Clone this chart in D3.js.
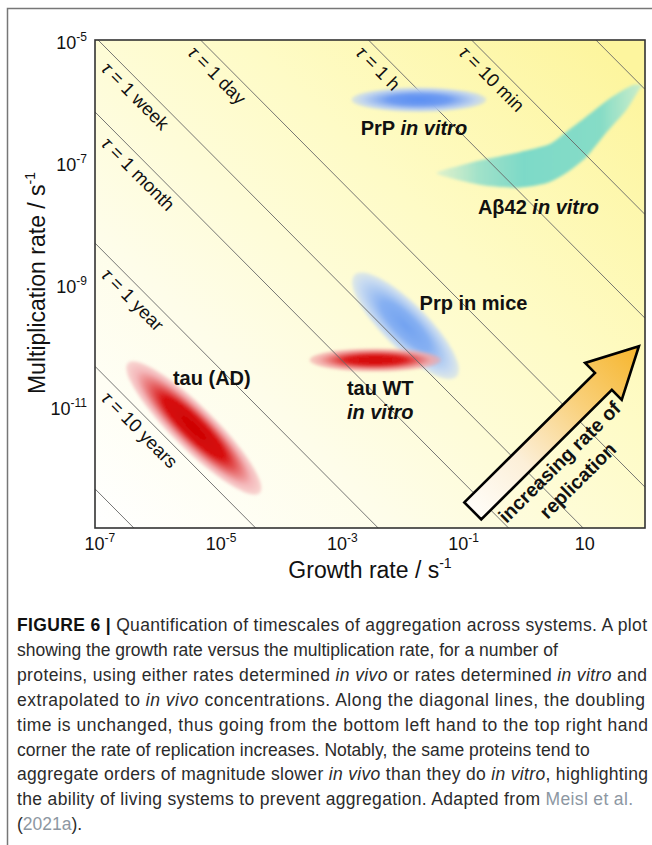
<!DOCTYPE html>
<html>
<head>
<meta charset="utf-8">
<script src="https://cdn.jsdelivr.net/npm/d3@7"></script>
<style>
  body { margin: 0; background: #fff; }
  svg { display: block; font-family: "Liberation Sans", Arial, Helvetica, sans-serif; }
</style>
</head>
<body>
<div class="figure"></div>
<script>
// tick values on the two log axes
var xTicks = [1e-7, 1e-5, 1e-3, 1e-1, 10];
var yTicks = [1e-5, 1e-7, 1e-9, 1e-11];

// lines of constant doubling time, growth * multiplication is fixed along each
var tauNames = ["", "10 min", "1 h", "1 day", "1 week", "1 month", "1 year", "10 years", ""];
var tauProducts = [1.55e-4, 1.38e-6, 2.75e-8, 4.68e-11, 9.55e-13, 5.62e-14, 3.98e-16, 3.80e-18, 3.72e-20];

// elliptical blobs: long axis from start to end, spread = half width in decades
var blobNames = ["Prp in mice", "tau WT", "tau (AD)", "PrP in vitro"];
var blobStartGrowth = [1.62e-3, 2.94e-4, 2.97e-7, 1.45e-3];
var blobStartMult = [1.41e-9, 5.68e-11, 5.07e-11, 1.05e-6];
var blobEndGrowth = [7.76e-2, 4.30e-2, 4.43e-5, 0.241];
var blobEndMult = [3.02e-11, 5.68e-11, 3.75e-13, 1.05e-6];
var blobSpread = [0.37, 0.19, 0.35, 0.2];

// Abeta42 in vitro, outline of the curved region
var abGrowth = [0.0363, 0.0871, 0.240, 0.851, 2.34, 5.01, 10.7, 22.9, 49.0, 79.4, 89.1, 61.7, 28.8, 10.7, 5.01, 2.63, 0.851, 0.240, 0.0871];
var abMult = [6.61e-8, 5.01e-8, 4.07e-8, 3.80e-8, 4.47e-8, 6.61e-8, 1.20e-7, 3.02e-7, 7.08e-7, 1.51e-6, 1.82e-6, 1.82e-6, 1.17e-6, 5.50e-7, 3.09e-7, 1.95e-7, 1.45e-7, 1.12e-7, 8.71e-8];

// arrow "increasing rate of replication": tail then tip
var arrowGrowth = [0.1445, 79.4];
var arrowMult = [1.905e-13, 9.55e-11];

var captionLines = [
  [["FIGURE 6 |", "b"], [" Quantification of timescales of aggregation across systems. A plot", ""]],
  [["showing the growth rate versus the multiplication rate, for a number of", ""]],
  [["proteins, using either rates determined ", ""], ["in vivo", "i"], [" or rates determined ", ""], ["in vitro", "i"], [" and", ""]],
  [["extrapolated to ", ""], ["in vivo", "i"], [" concentrations. Along the diagonal lines, the doubling", ""]],
  [["time is unchanged, thus going from the bottom left hand to the top right hand", ""]],
  [["corner the rate of replication increases. Notably, the same proteins tend to", ""]],
  [["aggregate orders of magnitude slower ", ""], ["in vivo", "i"], [" than they do ", ""], ["in vitro", "i"], [", highlighting", ""]],
  [["the ability of living systems to prevent aggregation. Adapted from ", ""], ["Meisl et al.", "l"]],
  [["(", ""], ["2021a", "l"], [").", ""]]
];
// full-width lines are spread to the right edge, the others stay natural (0)
var captionWidths = [630, 0, 630, 628, 631, 0, 631, 616, 0];

var svgWidth = 652;
var svgHeight = 845;

var plot = { left: 95, right: 645, top: 40, bottom: 528 };

var svg = d3.select(".figure")
  .append("svg")
  .attr("width", svgWidth)
  .attr("height", svgHeight);

var defs = svg.append("defs");

// outer figure frame (left + top)
svg.append("path")
  .attr("d", "M7.5," + svgHeight + "V8.5H" + svgWidth)
  .attr("fill", "none")
  .attr("stroke", "#777")
  .attr("stroke-width", 1.5);

var xScale = d3.scaleLog()
  .domain([8.5e-8, 100])
  .range([plot.left, plot.right]);

var yScale = d3.scaleLog()
  .domain([1e-13, 1e-5])
  .range([plot.bottom, plot.top]);

var pxPerDecade = yScale(1e-6) - yScale(1e-5);

// background gradient, white bottom left to yellow top right
var bg = defs.append("linearGradient")
  .attr("id", "bgGrad")
  .attr("x1", 0).attr("y1", 1).attr("x2", 1).attr("y2", 0.1);
bg.append("stop").attr("offset", "0").attr("stop-color", "#ffffff");
bg.append("stop").attr("offset", "0.3").attr("stop-color", "#fefdea");
bg.append("stop").attr("offset", "0.65").attr("stop-color", "#fefbc6");
bg.append("stop").attr("offset", "1").attr("stop-color", "#fdf59e");

defs.append("clipPath").attr("id", "plotClip")
  .append("rect")
  .attr("x", plot.left).attr("y", plot.top)
  .attr("width", plot.right - plot.left)
  .attr("height", plot.bottom - plot.top);

var soft = defs.append("filter").attr("id", "soft")
  .attr("x", "-20%").attr("y", "-20%").attr("width", "140%").attr("height", "140%");
soft.append("feGaussianBlur").attr("stdDeviation", 1.4);

svg.append("rect")
  .attr("x", plot.left).attr("y", plot.top)
  .attr("width", plot.right - plot.left)
  .attr("height", plot.bottom - plot.top)
  .attr("fill", "url(#bgGrad)");

var chartGroup = svg.append("g").attr("clip-path", "url(#plotClip)");

// colours for each blob: [core, middle, edge]
var blobColors = [
  ["#72a2f1", "#86b0f2", "#c2d7f4"],
  ["#d20000", "#dc1c1c", "#f2a6a6"],
  ["#cc0000", "#d81010", "#f3b0b4"],
  ["#5a8ef3", "#6f9cf2", "#bcd2f3"]
];

function drawBlob(g, i) {
  var x1 = xScale(blobStartGrowth[i]), y1 = yScale(blobStartMult[i]);
  var x2 = xScale(blobEndGrowth[i]), y2 = yScale(blobEndMult[i]);
  var cx = (x1 + x2) / 2, cy = (y1 + y2) / 2;
  var ang = Math.atan2(y2 - y1, x2 - x1) * 180 / Math.PI;
  var rx = Math.hypot(x2 - x1, y2 - y1) / 2;
  var ry = blobSpread[i] * pxPerDecade;

  var grad = defs.append("radialGradient").attr("id", "blob" + i);
  grad.append("stop").attr("offset", "0").attr("stop-color", blobColors[i][0]);
  grad.append("stop").attr("offset", "0.45").attr("stop-color", blobColors[i][1]);
  grad.append("stop").attr("offset", "0.85").attr("stop-color", blobColors[i][2]).attr("stop-opacity", 0.9);
  grad.append("stop").attr("offset", "1").attr("stop-color", blobColors[i][2]).attr("stop-opacity", 0.5);

  g.append("ellipse")
    .attr("transform", `translate(${cx},${cy}) rotate(${ang})`)
    .attr("rx", rx)
    .attr("ry", ry)
    .attr("fill", "url(#blob" + i + ")")
    .attr("filter", "url(#soft)");
  return [cx, cy];
}

// Abeta42 region
var abGrad = defs.append("linearGradient").attr("id", "abGrad")
  .attr("x1", 0).attr("y1", 0).attr("x2", 1).attr("y2", 0);
abGrad.append("stop").attr("offset", "0").attr("stop-color", "#d2eed0").attr("stop-opacity", 0.7);
abGrad.append("stop").attr("offset", "0.2").attr("stop-color", "#a2e2c9");
abGrad.append("stop").attr("offset", "0.42").attr("stop-color", "#7dd9c8");
abGrad.append("stop").attr("offset", "0.8").attr("stop-color", "#86dcc6");
abGrad.append("stop").attr("offset", "1").attr("stop-color", "#c2ecd0").attr("stop-opacity", 0.85);

var abPoints = abGrowth.map((g, i) => [xScale(g), yScale(abMult[i])]);
chartGroup.append("path")
  .attr("d", d3.line().curve(d3.curveCardinalClosed.tension(0.3))(abPoints))
  .attr("fill", "url(#abGrad)")
  .attr("filter", "url(#soft)");

// blobs below the lines
var blobCentres = [];
blobCentres[0] = drawBlob(chartGroup, 0);
blobCentres[1] = drawBlob(chartGroup, 1);
blobCentres[2] = drawBlob(chartGroup, 2);

// diagonal lines
var gMin = xScale.domain()[0], gMax = xScale.domain()[1];
chartGroup.selectAll("line.tau")
  .data(tauProducts)
  .enter()
  .append("line")
  .classed("tau", true)
  .attr("x1", xScale(gMin))
  .attr("y1", d => yScale(d / gMin))
  .attr("x2", xScale(gMax))
  .attr("y2", d => yScale(d / gMax))
  .attr("stroke", "#666")
  .attr("stroke-width", 0.9);

// PrP in vitro sits over the lines
blobCentres[3] = drawBlob(chartGroup, 3);

// tau labels, just under each line where it enters the plot
var mTop = yScale.domain()[1];
tauProducts.forEach(function(k, i) {
  if (!tauNames[i]) return;
  var gp = Math.max(k / mTop, xScale.invert(plot.left + 19));
  var px = xScale(gp), py = yScale(k / gp);
  var dx = xScale(gMax) - xScale(gMin), dy = yScale(k / gMax) - yScale(k / gMin);
  var len = Math.hypot(dx, dy);
  dx /= len; dy /= len;
  var bx = px - dy * 19.5, by = py + dx * 19.5;
  var ang = Math.atan2(dy, dx) * 180 / Math.PI;
  var t = svg.append("text")
    .attr("transform", `translate(${bx},${by}) rotate(${ang})`)
    .attr("font-size", 18.5)
    .attr("fill", "#111");
  t.append("tspan").attr("font-style", "italic").text("τ");
  t.append("tspan").text(" = " + tauNames[i]);
});

// arrow
var tx = xScale(arrowGrowth[0]), ty = yScale(arrowMult[0]);
var hx = xScale(arrowGrowth[1]), hy = yScale(arrowMult[1]);
var aLen = Math.hypot(hx - tx, hy - ty);
var ux = (hx - tx) / aLen, uy = (hy - ty) / aLen;
var vx = -uy, vy = ux;
var shaftHalf = 12, headHalf = 26, headLen = 50;
function ap(along, side) { return [tx + ux * along + vx * side, ty + uy * along + vy * side]; }
var arrowPts = [
  ap(0, -shaftHalf), ap(aLen - headLen, -shaftHalf), ap(aLen - headLen, -headHalf),
  ap(aLen, 0),
  ap(aLen - headLen, headHalf), ap(aLen - headLen, shaftHalf), ap(0, shaftHalf)
];

var arrowGrad = defs.append("linearGradient").attr("id", "arrowGrad")
  .attr("gradientUnits", "userSpaceOnUse")
  .attr("x1", tx).attr("y1", ty).attr("x2", hx).attr("y2", hy);
arrowGrad.append("stop").attr("offset", "0").attr("stop-color", "#fffdf8");
arrowGrad.append("stop").attr("offset", "0.3").attr("stop-color", "#fcefd8");
arrowGrad.append("stop").attr("offset", "0.65").attr("stop-color", "#f9d07a");
arrowGrad.append("stop").attr("offset", "1").attr("stop-color", "#f6b52c");

svg.append("path")
  .attr("d", "M" + arrowPts.join("L") + "Z")
  .attr("fill", "url(#arrowGrad)")
  .attr("stroke", "#000")
  .attr("stroke-width", 2.6)
  .attr("stroke-linejoin", "miter");

var aAng = Math.atan2(uy, ux) * 180 / Math.PI;
[["increasing rate of", 26], ["replication", 52]].forEach(function(d) {
  var c = ap(96, d[1]);
  svg.append("text")
    .attr("transform", `translate(${c[0]},${c[1]}) rotate(${aAng})`)
    .attr("text-anchor", "middle")
    .attr("dy", "0.36em")
    .attr("font-size", 19.5)
    .attr("font-weight", "bold")
    .attr("fill", "#111")
    .text(d[0]);
});

// blob labels (offsets from blob centre, px)
var labelGroup = svg.append("g")
  .attr("font-size", 20)
  .attr("font-weight", "bold")
  .attr("fill", "#111")
  .attr("text-anchor", "middle");

function label(x, y, parts) {
  var t = labelGroup.append("text").attr("x", x).attr("y", y);
  parts.forEach(p => t.append("tspan").attr("font-style", p[1] ? "italic" : null).text(p[0]));
}
label(blobCentres[0][0] + 68, blobCentres[0][1] - 16, [["Prp in mice", false]]);
label(blobCentres[1][0] + 5, blobCentres[1][1] + 35, [["tau WT", false]]);
label(blobCentres[1][0] + 5, blobCentres[1][1] + 59, [["in vitro", true]]);
label(blobCentres[2][0] + 18, blobCentres[2][1] - 43, [["tau (AD)", false]]);
label(blobCentres[3][0] - 5, blobCentres[3][1] + 35, [["PrP ", false], ["in vitro", true]]);
var abLow = abPoints[3];
label(abLow[0] + 19, abLow[1] + 26, [["Aβ42 ", false], ["in vitro", true]]);

// plot frame
svg.append("rect")
  .attr("x", plot.left).attr("y", plot.top)
  .attr("width", plot.right - plot.left)
  .attr("height", plot.bottom - plot.top)
  .attr("fill", "none")
  .attr("stroke", "#333")
  .attr("stroke-width", 1.6);

// axes, labels get a superscript exponent
function powerLabel(sel) {
  sel.each(function(d) {
    var e = Math.round(Math.log10(d));
    var t = d3.select(this).text(null);
    t.append("tspan").text("10");
    if (e !== 1) {
      t.append("tspan").attr("font-size", 12).attr("dy", -8).text(e);
    }
  });
}

var xAxis = svg.append("g")
  .attr("transform", `translate(0, ${plot.bottom})`)
  .call(d3.axisBottom(xScale).tickValues(xTicks).tickSize(0).tickPadding(9).tickFormat(""));
xAxis.select(".domain").remove();
xAxis.attr("font-size", 18).attr("font-family", null);
xAxis.selectAll(".tick text").attr("fill", "#111").call(powerLabel);

var yAxis = svg.append("g")
  .attr("transform", `translate(${plot.left}, 0)`)
  .call(d3.axisLeft(yScale).tickValues(yTicks).tickSize(0).tickPadding(8).tickFormat(""));
yAxis.select(".domain").remove();
yAxis.attr("font-size", 18).attr("font-family", null);
yAxis.selectAll(".tick text").attr("fill", "#111").attr("dy", "0.45em").call(powerLabel);

// axis titles
var xTitle = svg.append("text")
  .attr("x", 370).attr("y", 578)
  .attr("text-anchor", "middle")
  .attr("font-size", 23)
  .attr("fill", "#111");
xTitle.append("tspan").text("Growth rate / s");
xTitle.append("tspan").attr("font-size", 14).attr("dy", -10).text("-1");

var yTitle = svg.append("text")
  .attr("transform", "translate(45, 283) rotate(-90)")
  .attr("text-anchor", "middle")
  .attr("font-size", 23)
  .attr("fill", "#111");
yTitle.append("tspan").text("Multiplication rate / s");
yTitle.append("tspan").attr("font-size", 14).attr("dy", -10).text("-1");

// caption
var caption = svg.append("g")
  .attr("font-size", 17.5)
  .attr("fill", "#2b2b2b");

captionLines.forEach(function(line, i) {
  var t = caption.append("text")
    .attr("x", 17)
    .attr("y", 631 + i * 24.9);
  line.forEach(function(seg) {
    var s = t.append("tspan").text(seg[0]);
    if (seg[1] === "b") s.attr("font-weight", "bold").attr("fill", "#111");
    if (seg[1] === "i") s.attr("font-style", "italic");
    if (seg[1] === "l") s.attr("fill", "#8d97a2");
  });
  if (captionWidths[i]) t.attr("textLength", captionWidths[i]).attr("lengthAdjust", "spacing");
});
</script>
</body>
</html>
